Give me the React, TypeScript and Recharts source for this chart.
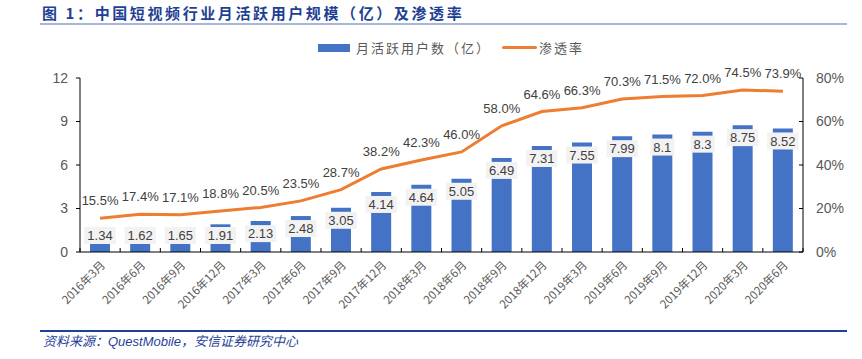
import React from "react";
import { ComposedChart, Bar, Line, XAxis, YAxis, LabelList } from "recharts";

const categories = [
  "2016年3月", "2016年6月", "2016年9月", "2016年12月",
  "2017年3月", "2017年6月", "2017年9月", "2017年12月",
  "2018年3月", "2018年6月", "2018年9月", "2018年12月",
  "2019年3月", "2019年6月", "2019年9月", "2019年12月",
  "2020年3月", "2020年6月",
];
const mauValues = [1.34, 1.62, 1.65, 1.91, 2.13, 2.48, 3.05, 4.14, 4.64, 5.05, 6.49, 7.31, 7.55, 7.99, 8.1, 8.3, 8.75, 8.52];
const penetration = [15.5, 17.4, 17.1, 18.8, 20.5, 23.5, 28.7, 38.2, 42.3, 46.0, 58.0, 64.6, 66.3, 70.3, 71.5, 72.0, 74.5, 73.9];
const leftTicks = [0, 3, 6, 9, 12];
const rightTicks = [0, 20, 40, 60, 80];

const data = categories.map((c, i) => ({ cat: c, mau: mauValues[i], pen: penetration[i] }));

const FONT = '"Liberation Sans", Arial, "Noto Sans CJK SC", sans-serif';
const CJK = '"Noto Sans CJK SC", "Liberation Sans", sans-serif';
const BLUE = "#4472C4";
const ORANGE = "#ED7D31";
const TXT = "#404040";
const AX = "#595959";

function textWidth(s: string, size: number) {
  let w = 0;
  for (const ch of s) {
    if (ch === ".") w += 0.278;
    else if (ch === "%") w += 0.889;
    else w += 0.556;
  }
  return w * size;
}

const BarLabel = (props: any) => {
  const { x, y, width, height, value } = props;
  const s = String(value);
  const fs = 13;
  const cx = x + width / 2;
  const cy = Math.min(y + 12.5, y + height - 16.5);
  const w = textWidth(s, fs) + 6;
  const h = 17;
  return (
    <g>
      <rect x={cx - w / 2} y={cy - h / 2} width={w} height={h} fill="#F2F2F2" />
      <text x={cx} y={cy} dy="0.36em" textAnchor="middle" fontSize={fs} fill={TXT} fontFamily={FONT}>
        {s}
      </text>
    </g>
  );
};

const LineLabel = (props: any) => {
  const { x, y, value } = props;
  return (
    <text x={x} y={y - 17.5} dy="0.36em" textAnchor="middle" fontSize={13} fill={TXT} fontFamily={FONT}>
      {Number(value).toFixed(1)}%
    </text>
  );
};

const XTick = (props: any) => {
  const { x, y, payload, index } = props;
  const half = payload && typeof payload.offset === "number" && payload.offset > 0 ? payload.offset : 20;
  const px = x + 3;
  const py = y + 11;
  return (
    <g>
      <line x1={x + half} x2={x + half} y1={y} y2={y - 4} stroke="#000" strokeWidth={1} />
      {index === 0 && <line x1={x - half} x2={x - half} y1={y} y2={y - 4} stroke="#000" strokeWidth={1} />}
      <text
        x={px}
        y={py}
        dy="0.35em"
        textAnchor="end"
        fontSize={11.5}
        fill={AX}
        fontFamily={CJK}
        transform={`rotate(-45, ${px}, ${py})`}
      >
        {payload.value}
      </text>
    </g>
  );
};

export default function App() {
  return (
    <div style={{ position: "absolute", left: 0, top: 0, width: 862, height: 359, background: "#fff", fontFamily: CJK }}>
      <div
        style={{
          position: "absolute",
          left: 42,
          top: 2,
          fontSize: 15,
          lineHeight: "22px",
          fontWeight: 700,
          color: "#1F3F94",
          letterSpacing: 2.6,
          whiteSpace: "nowrap",
        }}
      >
        图 1：中国短视频行业月活跃用户规模（亿）及渗透率
      </div>
      <div style={{ position: "absolute", left: 40, top: 23, width: 807, height: 2, background: "#A9B7D6" }} />

      <div style={{ position: "absolute", left: 318, top: 44, width: 32, height: 8, background: BLUE }} />
      <div
        style={{
          position: "absolute",
          left: 356,
          top: 38,
          fontSize: 13,
          lineHeight: "19px",
          color: AX,
          letterSpacing: 2,
          whiteSpace: "nowrap",
        }}
      >
        月活跃用户数（亿）
      </div>
      <div style={{ position: "absolute", left: 502, top: 46, width: 35, height: 3, borderRadius: 1.5, background: ORANGE }} />
      <div
        style={{
          position: "absolute",
          left: 539,
          top: 38,
          fontSize: 13,
          lineHeight: "19px",
          color: AX,
          letterSpacing: 2,
          whiteSpace: "nowrap",
        }}
      >
        渗透率
      </div>

      <div style={{ position: "absolute", left: 0, top: 0 }}>
        <ComposedChart width={862} height={359} data={data} margin={{ top: 78, right: 9, bottom: 47, left: 50 }}>
          <XAxis
            dataKey="cat"
            interval={0}
            height={60}
            tickSize={0}
            tickMargin={0}
            tickLine={false}
            axisLine={{ stroke: "#000", strokeWidth: 1 }}
            tick={<XTick />}
          />
          <YAxis
            yAxisId="l"
            domain={[0, 12]}
            ticks={leftTicks}
            width={30}
            tickSize={4}
            tickMargin={8}
            axisLine={{ stroke: "#000", strokeWidth: 1 }}
            tickLine={{ stroke: "#000", strokeWidth: 1 }}
            tick={{ fill: AX, fontSize: 14, fontFamily: FONT }}
          />
          <YAxis
            yAxisId="r"
            orientation="right"
            domain={[0, 80]}
            ticks={rightTicks}
            width={50}
            tickSize={-4}
            tickMargin={17}
            tickFormatter={(v: number) => `${v}%`}
            axisLine={{ stroke: "#000", strokeWidth: 1 }}
            tickLine={{ stroke: "#000", strokeWidth: 1 }}
            tick={{ fill: AX, fontSize: 14, fontFamily: FONT, textAnchor: "start" }}
          />
          <Bar yAxisId="l" dataKey="mau" fill={BLUE} barSize={20} isAnimationActive={false}>
            <LabelList dataKey="mau" content={<BarLabel />} />
          </Bar>
          <Line
            yAxisId="r"
            dataKey="pen"
            stroke={ORANGE}
            strokeWidth={3}
            dot={false}
            activeDot={false}
            isAnimationActive={false}
          >
            <LabelList dataKey="pen" content={<LineLabel />} />
          </Line>
        </ComposedChart>
      </div>

      <div style={{ position: "absolute", left: 40, top: 330, width: 807, height: 2, background: "#1F3F99" }} />
      <div
        style={{
          position: "absolute",
          left: 43,
          top: 333,
          fontSize: 13,
          lineHeight: "18px",
          fontStyle: "italic",
          color: "#1F3F99",
          letterSpacing: 0,
          whiteSpace: "nowrap",
          fontFamily: '"Liberation Sans", Arial, "Noto Sans CJK SC", sans-serif',
        }}
      >
        资料来源：QuestMobile，安信证券研究中心
      </div>
    </div>
  );
}
